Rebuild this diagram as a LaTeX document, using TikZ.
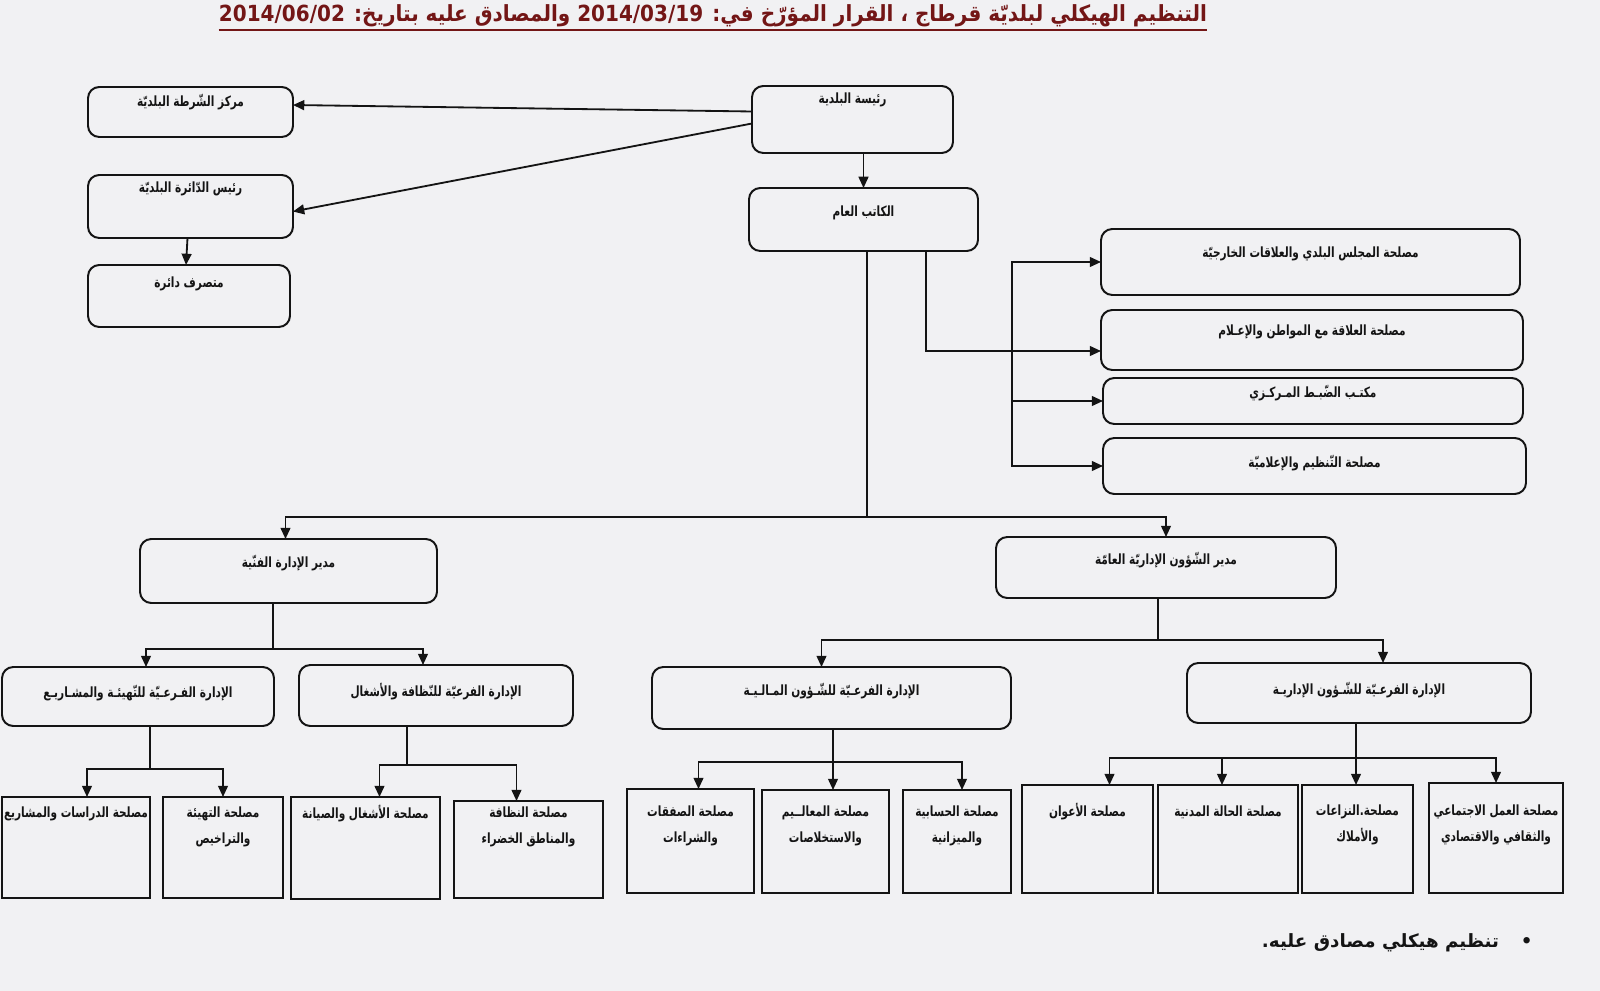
\documentclass[tikz,border=0pt]{standalone}
\usepackage{fontspec}
\usepackage{graphicx}
\usetikzlibrary{arrows.meta,calc}
\TeXXeTstate=1
\newfontfamily\ar[Script=Arabic]{DejaVu Sans}
\newcommand\sx{\scalebox{0.75}[1]}
\definecolor{bg}{RGB}{241,241,243}
\definecolor{ttl}{RGB}{115,22,22}
\definecolor{ink}{RGB}{20,20,20}
\newcommand\bx[8][rbox]{%
  \node[#1, minimum width={(#5-#3)*0.025cm}, minimum height={(#6-#4)*0.025cm}] (#2) at ({(#3+#5)/2},{(#4+#6)/2}) {};
  \node[lbl] (#2-t) at ({(#3+#5)/2},#7) {#8};}
\tikzset{
 rbox/.style={draw=ink, line width=1.4pt, rounded corners=8pt, fill=bg, inner sep=0pt, outer sep=0pt},
 sbox/.style={draw=ink, line width=1.4pt, fill=bg, inner sep=0pt, outer sep=0pt},
 lbl/.style={font=\ar\bfseries\fontsize{10}{19}\selectfont, align=center, inner sep=0pt, text=ink},
 arr/.style={draw=ink, line width=1.3pt, -{Triangle[length=8pt,width=7pt]}},
 ln/.style={draw=ink, line width=1.3pt},
}
\begin{document}
\begin{tikzpicture}[x=0.025cm, y=-0.025cm]
\fill[bg] (0,0) rectangle (1600,991);
\useasboundingbox (0,0) rectangle (1600,991);

% title
\node[font=\ar\bfseries\fontsize{15.8}{17}\selectfont, text=ttl, inner sep=0pt] (title) at (713,16)
  {\scalebox{0.9}[1]{\beginR التنظيم الهيكلي لبلديّة قرطاج ، القرار المؤرّخ في: \beginL 2014/03/19\endL\  والمصادق عليه بتاريخ: \beginL 2014/06/02\endL\endR}};
\draw[ttl, line width=1.6pt] ([yshift=-1.5pt]title.south west) -- ([yshift=-1.5pt]title.south east);

% top level
\bx{rais}{752}{86}{953}{153}{100}{\sx{\beginR رئيسة البلدية\endR}}
\bx{shurta}{88}{87}{293}{137}{102}{\sx{\beginR مركز الشّرطة البلديّة\endR}}
\bx{daira}{88}{175}{293}{238}{189}{\sx{\beginR رئيس الدّائرة البلديّة\endR}}
\bx{mut}{88}{265}{290}{327}{284}{\sx{\beginR متصرف دائرة\endR}}
\bx{kat}{749}{188}{978}{251}{213}{\sx{\beginR الكاتب العام\endR}}

% right column
\bx{s1}{1101}{229}{1520}{295}{254}{\sx{\beginR مصلحة المجلس البلدي والعلاقات الخارجيّة\endR}}
\bx{s2}{1101}{310}{1523}{370}{332}{\sx{\beginR مصلحة العلاقة مع المواطن والإعـلام\endR}}
\bx{s3}{1103}{378}{1523}{424}{393}{\sx{\beginR مكتـب الضّبـط المـركـزي\endR}}
\bx{s4}{1103}{438}{1526}{494}{463}{\sx{\beginR مصلحة التّنظيم والإعلاميّة\endR}}

% directors
\bx{tech}{140}{539}{437}{603}{563}{\sx{\beginR مدير الإدارة الفنّية\endR}}
\bx{gen}{996}{537}{1336}{598}{560}{\sx{\beginR مدير الشّؤون الإداريّة العامّة\endR}}

% sub-directorates
\bx{t1}{2}{667}{274}{726}{693}{\sx{\beginR الإدارة الفـرعـيّة للتّهيئـة والمشـاريـع\endR}}
\bx{t2}{299}{665}{573}{726}{692}{\sx{\beginR الإدارة الفرعيّة للنّظافة والأشغال\endR}}
\bx{g1}{652}{667}{1011}{729}{691}{\sx{\beginR الإدارة الفرعـيّة للشّـؤون المـالـيـة\endR}}
\bx{g2}{1187}{663}{1531}{723}{690}{\sx{\beginR الإدارة الفرعـيّة للشّـؤون الإداريـة\endR}}

% services
\bx[sbox]{d1}{2}{797}{150}{898}{814}{\sx{\beginR مصلحة الدراسات والمشاريع\endR}}
\bx[sbox]{d2}{163}{797}{283}{898}{827}{\sx{\beginR مصلحة التهيئة\endR}\\\sx{\beginR والتراخيص\endR}}
\bx[sbox]{d3}{291}{797}{440}{899}{814}{\sx{\beginR مصلحة الأشغال والصيانة\endR}}
\bx[sbox]{d4}{454}{801}{603}{898}{827}{\sx{\beginR مصلحة النظافة\endR}\\\sx{\beginR والمناطق  الخضراء\endR}}
\bx[sbox]{f1}{627}{789}{754}{893}{826}{\sx{\beginR مصلحة الصفقات\endR}\\\sx{\beginR والشراءات\endR}}
\bx[sbox]{f2}{762}{790}{889}{893}{826}{\sx{\beginR مصلحة المعالــيم\endR}\\\sx{\beginR والاستخلاصات\endR}}
\bx[sbox]{f3}{903}{790}{1011}{893}{826}{\sx{\beginR مصلحة الحسابية\endR}\\\sx{\beginR والميزانية\endR}}
\bx[sbox]{a1}{1022}{785}{1153}{893}{812}{\sx{\beginR مصلحة الأعوان\endR}}
\bx[sbox]{a2}{1158}{785}{1298}{893}{812}{\sx{\beginR مصلحة الحالة المدنية\endR}}
\bx[sbox]{a3}{1302}{785}{1413}{893}{825}{\sx{\beginR مصلحة.النزاعات\endR}\\\sx{\beginR والأملاك\endR}}
\bx[sbox]{a4}{1429}{783}{1563}{893}{825}{\sx{\beginR مصلحة العمل الاجتماعي\endR}\\\sx{\beginR والثقافي والاقتصادي\endR}}

% junctions
\coordinate (k2) at (926,351);
\coordinate (b) at (1012,351);
\coordinate (j1) at (867,517);
\coordinate (j2) at (273,649);
\coordinate (j3) at (1158,640);
\coordinate (j4) at (150,769);
\coordinate (j5) at (407,765);
\coordinate (j6) at (833,762);
\coordinate (j7) at (1356,758);

% connectors top
\draw[arr] ($(rais.west)+(0,-8)$) -- ($(shurta.east)+(0,-7)$);
\draw[arr] ($(rais.west)+(0,4)$) -- ($(daira.east)+(0,5)$);
\draw[arr] (rais.south -| kat.north) -- (kat.north);
\draw[arr] ($(daira.south)+(-3,0)$) -- ($(mut.north)+(-3,0)$);

% right column
\draw[arr] (kat.south -| k2) -- (k2) -- (k2 -| s2.west);
\draw[arr] (b) |- (s1.west);
\draw[arr] (b) |- (s3.west);
\draw[arr] (b) |- (s4.west);

% to directors
\draw[ln] (kat.south -| j1) -- (j1);
\draw[arr] (j1) -| ($(tech.north)+(-3,0)$);
\draw[arr] (j1) -| (gen.north);

% technical
\draw[ln] (tech.south -| j2) -- (j2);
\draw[arr] (j2) -| ($(t1.north)+(8,0)$);
\draw[arr] (j2) -| ($(t2.north)+(-13,0)$);
\draw[ln] (t1.south -| j4) -- (j4);
\draw[arr] (j4) -| ($(d1.north)+(11,0)$);
\draw[arr] (j4) -| (d2.north);
\draw[ln] (t2.south -| j5) -- (j5);
\draw[arr] (j5) -| ($(d3.north)+(14,0)$);
\draw[arr] (j5) -| ($(d4.north)+(-12,0)$);

% general affairs
\draw[ln] (gen.south -| j3) -- (j3);
\draw[arr] (j3) -| ($(g1.north)+(-10,0)$);
\draw[arr] (j3) -| ($(g2.north)+(24,0)$);
\draw[ln] (g1.south -| j6) -- (j6);
\draw[arr] (j6) -| ($(f1.north)+(8,0)$);
\draw[arr] (j6) -- (f2.north -| j6);
\draw[arr] (j6) -| ($(f3.north)+(5,0)$);
\draw[arr] (g2.south -| j7) -- (a3.north -| j7);
\draw[arr] (j7) -| ($(a1.north)+(22,0)$);
\draw[arr] (j7) -| ($(a2.north)+(-6,0)$);
\draw[arr] (j7) -| (a4.north);

% note
\node[font=\ar\bfseries\fontsize{13}{15}\selectfont, text=ink, anchor=east, inner sep=0pt] (note) at (1533,943)
  {\beginR •\hspace{1.2em}تنظيم هيكلي مصادق عليه.\endR};
\end{tikzpicture}
\end{document}
